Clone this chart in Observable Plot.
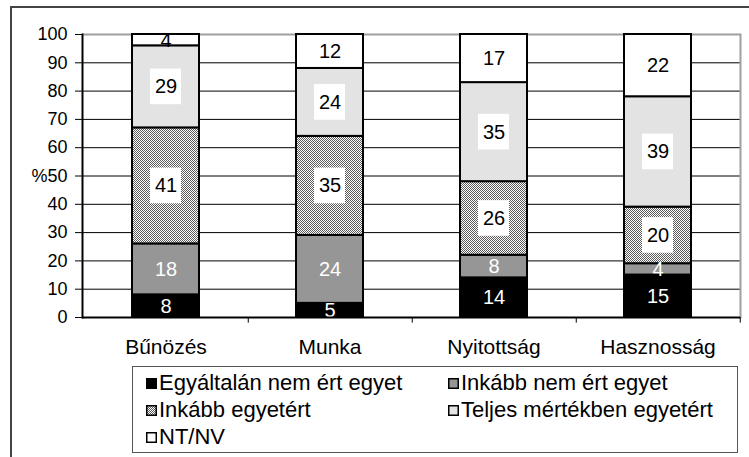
<!DOCTYPE html>
<html><head><meta charset="utf-8">
<script src="https://cdn.jsdelivr.net/npm/d3@7"></script>
<script src="https://cdn.jsdelivr.net/npm/@observablehq/plot@0.6"></script>
<style>
body{margin:0;background:#fff;font-family:"Liberation Sans",Arial,sans-serif;}
#wrap{position:relative;width:749px;height:457px;overflow:hidden;background:#fff;}
#frame{position:absolute;left:10px;top:6px;width:760px;height:470px;border:2px solid #444;box-sizing:border-box;}
#chart{position:absolute;left:0;top:0;}
#legend{position:absolute;left:132px;top:366px;width:606px;height:87px;border:1px solid #555;box-sizing:border-box;background:#fff;font-size:22px;color:#000;}
.item{position:absolute;display:flex;align-items:center;white-space:nowrap;height:24px;}
.item svg{margin-right:2px;}
</style></head><body>
<div id="wrap"><div id="frame"></div><div id="chart"></div><div id="legend"></div></div>
<script>
const categories = ["Bűnözés", "Munka", "Nyitottság", "Hasznosság"];
const seriesNames = ["Egyáltalán nem ért egyet", "Inkább nem ért egyet", "Inkább egyetért", "Teljes mértékben egyetért", "NT/NV"];
const egyaltalanNem = [8, 5, 14, 15];
const inkabbNem = [18, 24, 8, 4];
const inkabbEgyet = [41, 35, 26, 20];
const teljesen = [29, 24, 35, 39];
const ntnv = [4, 12, 17, 22];
const yTicks = [0, 10, 20, 30, 40, 50, 60, 70, 80, 90, 100];

const seriesValues = [egyaltalanNem, inkabbNem, inkabbEgyet, teljesen, ntnv];
const fills = ["#000000", "#969696", "url(#chk)", "#e3e3e3", "#ffffff"];
const labelColor = ["#fff", "#fff", "#000", "#000", "#000"];
const boxed = [false, false, true, true, false];

const rows = [];
categories.forEach((c, i) => {
  let base = 0;
  seriesValues.forEach((arr, j) => {
    const v = arr[i];
    rows.push({cat: c, series: seriesNames[j], si: j, value: v, mid: base + v / 2});
    base += v;
  });
});

const font = '"Liberation Sans", Arial, sans-serif';
const chart = Plot.plot({
  width: 749, height: 362,
  marginLeft: 82, marginRight: 9, marginTop: 34, marginBottom: 45,
  style: {fontFamily: font, fontSize: "18px", color: "#000", background: "transparent"},
  x: {domain: categories, paddingInner: 0.593, paddingOuter: 0.2965, label: null},
  y: {domain: [0, 100], label: null},
  color: {domain: seriesNames, range: fills},
  marks: [
    Plot.ruleY(yTicks.filter(d => d > 0 && d < 100), {stroke: "#000", strokeWidth: 1}),
    Plot.ruleY([100], {stroke: "#a0a0a0", strokeWidth: 2}),
    Plot.frame({anchor: "right", stroke: "#a0a0a0", strokeWidth: 2}),
    Plot.barY(rows, {x: "cat", y: "value", fill: "series", stroke: "#000", strokeWidth: 2}),
    Plot.barY(rows.filter(d => boxed[d.si]), {x: "cat", y1: d => d.mid - 6.3, y2: d => d.mid + 6.3, fill: "#fff", insetLeft: 18, insetRight: 18}),
    Plot.text(rows.filter(d => labelColor[d.si] === "#fff"), {x: "cat", y: "mid", text: "value", fill: "#fff", fontSize: 20}),
    Plot.text(rows.filter(d => labelColor[d.si] === "#000"), {x: "cat", y: "mid", text: "value", fill: "#000", fontSize: 20}),
    Plot.ruleX(categories, {x: d => d, dx: 82.25, y1: 0, y2: -2, stroke: "#000", strokeWidth: 1}),
    Plot.ruleY([0], {stroke: "#000", strokeWidth: 2}),
    Plot.frame({anchor: "left", stroke: "#000", strokeWidth: 2}),
    Plot.axisY({ticks: yTicks, tickSize: 7, tickPadding: 8, tickFormat: d => d === 50 ? "%50" : String(d), fontSize: 18, label: null, stroke: "#000"}),
    Plot.axisX({tickSize: 0, tickPadding: 22, fontSize: 21, label: null})
  ]
});

// checker pattern for "Inkább egyetért"
const ns = "http://www.w3.org/2000/svg";
function addPattern(svg) {
  const defs = document.createElementNS(ns, "defs");
  const p = document.createElementNS(ns, "pattern");
  p.setAttribute("id", "chk"); p.setAttribute("width", "2"); p.setAttribute("height", "2");
  p.setAttribute("patternUnits", "userSpaceOnUse");
  [[0, 0, 2, 2, "#ffffff"], [0, 0, 1, 1, "#5a5a5a"], [1, 1, 1, 1, "#5a5a5a"]].forEach(([x, y, w, h, f]) => {
    const r = document.createElementNS(ns, "rect");
    r.setAttribute("x", x); r.setAttribute("y", y); r.setAttribute("width", w); r.setAttribute("height", h); r.setAttribute("fill", f);
    p.appendChild(r);
  });
  defs.appendChild(p);
  svg.insertBefore(defs, svg.firstChild);
}
addPattern(chart);
document.getElementById("chart").appendChild(chart);

// legend
const legend = document.getElementById("legend");
const pos = [[13, 4], [315, 4], [13, 31], [315, 31], [13, 58]];
seriesNames.forEach((name, j) => {
  const it = document.createElement("div");
  it.className = "item";
  it.style.left = pos[j][0] + "px";
  it.style.top = pos[j][1] + "px";
  it.innerHTML = `<svg width="11" height="11"><rect x="0.75" y="0.75" width="9.5" height="9.5" fill="${fills[j]}" stroke="#000" stroke-width="1.5"/></svg><span>${name}</span>`;
  legend.appendChild(it);
});
</script></body></html>
